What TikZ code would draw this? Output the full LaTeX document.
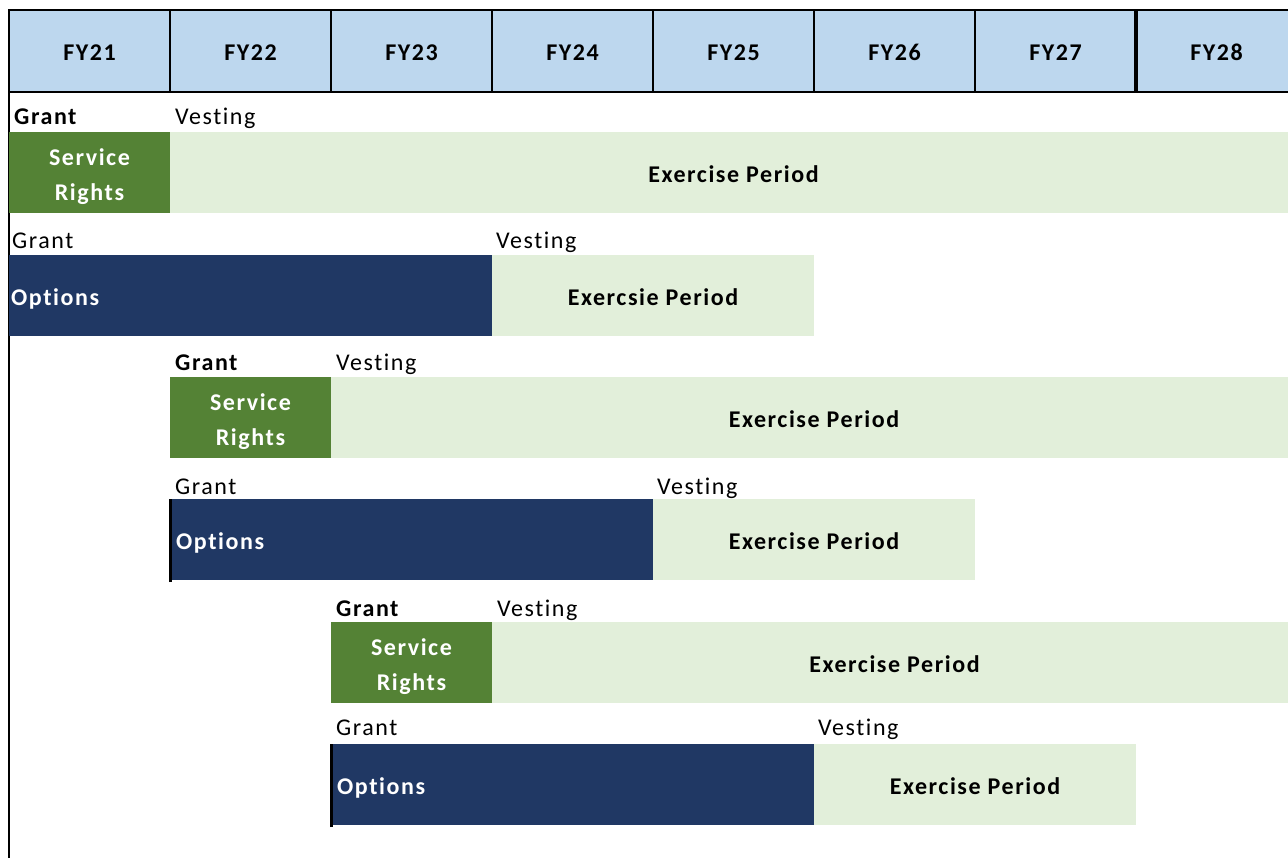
\documentclass[tikz,border=0pt]{standalone}
\usepackage{fontspec}
\setmainfont{Carlito}[LetterSpace=6.5, Ligatures={NoCommon}]
\definecolor{hdrblue}{HTML}{BDD7EE}
\definecolor{srgreen}{HTML}{548235}
\definecolor{exgreen}{HTML}{E2EFDA}
\definecolor{optnavy}{HTML}{203864}
\begin{document}
\begin{tikzpicture}[x=1pt,y=-1pt,
  hdr/.style={draw=black, line width=2pt, fill=hdrblue, minimum width=161pt,
    minimum height=82pt, anchor=north west, inner sep=0pt, outer sep=0pt,
    text height=19pt, text depth=0pt,
    font=\fontsize{24}{29}\selectfont\bfseries},
  bar/.style={anchor=north west, minimum height=81pt, inner sep=0pt, outer sep=0pt},
  srbar/.style={bar, fill=srgreen, minimum width=161pt},
  exbar/.style={bar, fill=exgreen},
  optbar/.style={bar, fill=optnavy},
  bartext/.style={inner sep=0pt, align=center, font=\fontsize{24}{35}\selectfont\bfseries},
  srtext/.style={bartext, text=white, yshift=-4.5pt},
  extext/.style={bartext, text=black, yshift=-2pt},
  opttext/.style={anchor=west, text=white, inner sep=0pt, yshift=-3pt,
    font=\fontsize{24}{29}\selectfont\bfseries},
  lbl/.style={anchor=base west, inner sep=0pt, font=\fontsize{24}{29}\selectfont},
  lblb/.style={lbl, font=\fontsize{24}{29}\selectfont\bfseries},
  edge/.style={draw=black, line width=3pt}
]
\useasboundingbox (0,0) rectangle (1288,858);
\clip (0,0) rectangle (1288,858);
\fill[white] (0,0) rectangle (1288,858);

% year header
\foreach \yr [count=\n] in {21,...,28}
  \node[hdr] (fy\yr) at ({9+161*(\n-1)},10) {FY\yr};
\draw[line width=4pt] (fy28.north west) -- (fy28.south west);

% left rule of the table
\coordinate (lt) at (9,10);
\coordinate (lb) at (9,858);
\draw[line width=2.5pt] (lt) -- (lb);

% plan 1: service rights granted FY21
\node[lblb] (g1) at (14,125) {Grant};
\node[lbl]  (v1) at (175,125) {Vesting};
\node[srbar] (sr1) at (9,132) {};
\node[exbar, minimum width=1127pt] (ex1) at (170,132) {};
\node[srtext] (st1) at (sr1.center) {Service\\Rights};
\node[extext] (et1) at (ex1.center) {Exercise Period};

% plan 2: options granted FY21
\node[lbl] (g2) at (12,249) {Grant};
\node[lbl] (v2) at (496,249) {Vesting};
\node[optbar, minimum width=483pt] (op2) at (9,255) {};
\node[opttext] (ot2) at ([xshift=2pt]op2.west) {Options};
\node[exbar, minimum width=322pt] (ex2) at (492,255) {};
\node[extext] (et2) at (ex2.center) {Exercsie Period};

% plan 3: service rights granted FY22
\node[lblb] (g3) at (175,371) {Grant};
\node[lbl]  (v3) at (336,371) {Vesting};
\node[srbar] (sr3) at (170,377) {};
\node[exbar, minimum width=966pt] (ex3) at (331,377) {};
\node[srtext] (st3) at (sr3.center) {Service\\Rights};
\node[extext] (et3) at (ex3.center) {Exercise Period};

% plan 4: options granted FY22
\node[lbl] (g4) at (175,494) {Grant};
\node[lbl] (v4) at (657,494) {Vesting};
\node[optbar, minimum width=483pt] (op4) at (170,499) {};
\node[opttext] (ot4) at ([xshift=6pt]op4.west) {Options};
\node[exbar, minimum width=322pt] (ex4) at (653,499) {};
\node[extext] (et4) at (ex4.center) {Exercise Period};
\draw[edge] ([yshift=-2pt]op4.south west) -- (op4.north west);

% plan 5: service rights granted FY23
\node[lblb] (g5) at (336,616) {Grant};
\node[lbl]  (v5) at (497,616) {Vesting};
\node[srbar] (sr5) at (331,622) {};
\node[exbar, minimum width=805pt] (ex5) at (492,622) {};
\node[srtext] (st5) at (sr5.center) {Service\\Rights};
\node[extext] (et5) at (ex5.center) {Exercise Period};

% plan 6: options granted FY23
\node[lbl] (g6) at (336,735) {Grant};
\node[lbl] (v6) at (818,735) {Vesting};
\node[optbar, minimum width=483pt] (op6) at (331,744) {};
\node[opttext] (ot6) at ([xshift=6pt]op6.west) {Options};
\node[exbar, minimum width=322pt] (ex6) at (814,744) {};
\node[extext] (et6) at (ex6.center) {Exercise Period};
\draw[edge] ([yshift=-2pt]op6.south west) -- (op6.north west);
\end{tikzpicture}
\end{document}
